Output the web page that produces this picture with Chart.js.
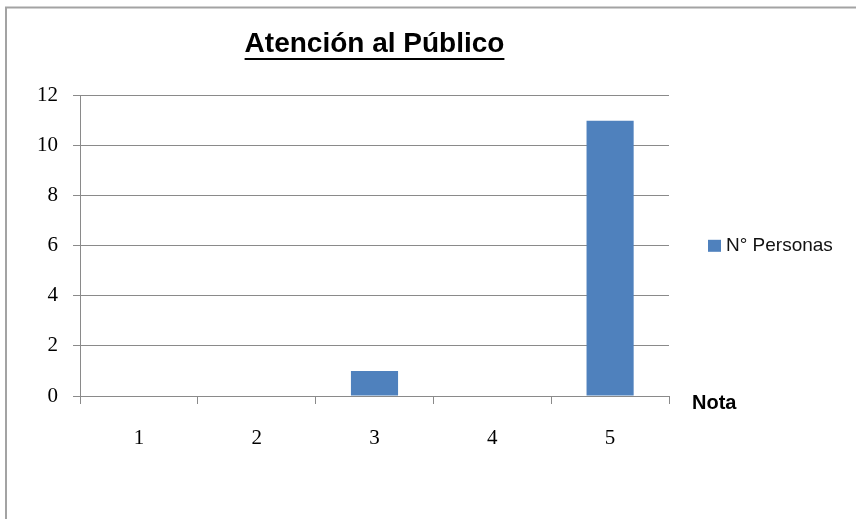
<!DOCTYPE html>
<html>
<head>
<meta charset="utf-8">
<script src="https://cdn.jsdelivr.net/npm/chart.js@4.4.0/dist/chart.umd.min.js"></script>
<style>
html,body{margin:0;padding:0;background:#fff;}
</style>
</head>
<body>
<canvas id="myCanvas" width="856" height="519"></canvas>
<script>
// datos
var titulo = "Atención al Público";
var notas = ["1", "2", "3", "4", "5"];
var personas = [0, 0, 1, 0, 11];
var nombreSerie = "N° Personas";
var nombreEjeX = "Nota";
var yTicks = [0, 2, 4, 6, 8, 10, 12];

var azul = "#4F81BD";
var gris = "#8a8a8a";
var fuenteSans = "'Liberation Sans', Arial, sans-serif";
var fuenteSerif = "'Liberation Serif', 'Times New Roman', serif";

// marco, subrayado del titulo, leyenda y texto "Nota"
var extras = {
	id: "extras",
	beforeDraw: function(chart){
		var ctx = chart.ctx;
		ctx.save();
		ctx.strokeStyle = "#a3a3a3";
		ctx.lineWidth = 2;
		ctx.beginPath();
		ctx.moveTo(6, 519);
		ctx.lineTo(6, 7.5);
		ctx.lineTo(856, 7.5);
		ctx.stroke();
		ctx.restore();
	},
	afterDraw: function(chart){
		var ctx = chart.ctx;
		var area = chart.chartArea;
		ctx.save();
		// subrayado
		ctx.font = "bold 28px " + fuenteSans;
		var w = ctx.measureText(titulo).width;
		var cx = (area.left + area.right) / 2;
		ctx.fillStyle = "#000";
		ctx.fillRect(cx - w / 2, 58, w, 2);
		// leyenda
		var cy = (area.top + area.bottom) / 2;
		chart.data.datasets.forEach(function(ds, i){
			var y = cy + i * 24;
			ctx.fillStyle = ds.backgroundColor;
			ctx.fillRect(area.right + 39, y - 6, 13, 12);
			ctx.fillStyle = "#111";
			ctx.font = "19px " + fuenteSans;
			ctx.textBaseline = "middle";
			ctx.textAlign = "left";
			ctx.fillText(ds.label, area.right + 57, y);
		});
		// titulo del eje x
		ctx.fillStyle = "#000";
		ctx.font = "bold 20px " + fuenteSans;
		ctx.textBaseline = "middle";
		ctx.textAlign = "left";
		ctx.fillText(nombreEjeX, area.right + 23, 403);
		ctx.restore();
	}
};

var ctx = document.getElementById("myCanvas");
var barGraph = new Chart(ctx, {
	type: "bar",
	data: {
		labels: notas,
		datasets: [{
			label: nombreSerie,
			data: personas,
			backgroundColor: azul,
			borderWidth: 0,
			barPercentage: 0.4,
			categoryPercentage: 1
		}]
	},
	options: {
		responsive: false,
		animation: false,
		layout: {padding: {top: 8, right: 187, bottom: 0, left: 0}},
		scales: {
			x: {
				grid: {display: true, drawOnChartArea: false, drawTicks: true, tickLength: 8, color: gris, offset: true},
				border: {display: true, color: gris, width: 1},
				ticks: {color: "#000", font: {family: fuenteSerif, size: 21}, padding: 22},
				afterFit: function(scale){ scale.height = 123; }
			},
			y: {
				min: yTicks[0],
				max: yTicks[yTicks.length - 1],
				ticks: {stepSize: 2, color: "#000", font: {family: fuenteSerif, size: 21}, padding: 15},
				grid: {color: gris, tickLength: 7},
				border: {display: true, color: gris, width: 1},
				afterFit: function(scale){ scale.width = 80; }
			}
		},
		plugins: {
			title: {
				display: true,
				text: titulo,
				fullSize: false,
				color: "#000",
				font: {family: fuenteSans, size: 28, weight: "bold"},
				padding: {top: 19, bottom: 35}
			},
			legend: {display: false},
			tooltip: {enabled: false}
		}
	},
	plugins: [extras]
});
</script>
</body>
</html>
